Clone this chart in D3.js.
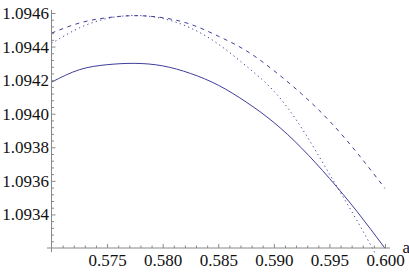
<!DOCTYPE html>
<html>
<head>
<meta charset="utf-8">
<script src="https://cdn.jsdelivr.net/npm/d3@7"></script>
<style>
  body { margin: 0; background: #fff; }
  svg { display: block; }
  .tick text { font-family: "Liberation Serif", "DejaVu Serif", serif; font-size: 17px; fill: #111; }
  .tick line { stroke: #888; }
</style>
</head>
<body>
<svg id="chart" width="409" height="273"></svg>
<script>
// valeurs
const aValues = [0.570, 0.5725, 0.575, 0.5775, 0.580, 0.5825, 0.585, 0.5875, 0.590, 0.5925, 0.595, 0.5975, 0.600];
const solid  = [1.094188, 1.094262, 1.094292, 1.094300, 1.094285, 1.094240, 1.094170, 1.094070, 1.093948, 1.093795, 1.093615, 1.093416, 1.093198];
const dashed = [1.094480, 1.094540, 1.094572, 1.094584, 1.094572, 1.094533, 1.094462, 1.094376, 1.094257, 1.094118, 1.093957, 1.093766, 1.093555];
const dotted = [1.094419, 1.094511, 1.094567, 1.094585, 1.094567, 1.094511, 1.094415, 1.094285, 1.094135, 1.093915, 1.093641, 1.093361, 1.093061];

const xTicks = [0.575, 0.580, 0.585, 0.590, 0.595, 0.600];
const yTicks = [1.0934, 1.0936, 1.0938, 1.0940, 1.0942, 1.0944, 1.0946];
const xMinor = [0.571, 0.572, 0.573, 0.574, 0.576, 0.577, 0.578, 0.579, 0.581, 0.582, 0.583, 0.584,
                0.586, 0.587, 0.588, 0.589, 0.591, 0.592, 0.593, 0.594, 0.596, 0.597, 0.598, 0.599];
const yMinor = [1.09324, 1.09328, 1.09332, 1.09336, 1.09344, 1.09348, 1.09352, 1.09356,
                1.09364, 1.09368, 1.09372, 1.09376, 1.09384, 1.09388, 1.09392, 1.09396,
                1.09404, 1.09408, 1.09412, 1.09416, 1.09424, 1.09428, 1.09432, 1.09436,
                1.09444, 1.09448, 1.09452, 1.09456];
const xLabel = "a";

const svg = d3.select("#chart");
const col = "rgb(63,61,153)";

const x = d3.scaleLinear().domain([0.570, 0.600]).range([51.5, 385]);
const y = d3.scaleLinear().domain([1.0932, 1.0946]).range([248, 13]);

// clip des courbes
svg.append("clipPath").attr("id", "clip")
  .append("rect").attr("x", 51).attr("y", 6).attr("width", 336).attr("height", 249);

const series = [
  { vals: solid, dash: null },
  { vals: dashed, dash: "4,4.5" },
  { vals: dotted, dash: "1.2,3.3" }
];

const line = d3.line()
  .x(d => x(d[0]))
  .y(d => y(d[1]))
  .curve(d3.curveNatural);

const curves = svg.append("g").attr("clip-path", "url(#clip)");
series.forEach(s => {
  curves.append("path")
    .attr("d", line(aValues.map((a, i) => [a, s.vals[i]])))
    .attr("fill", "none")
    .attr("stroke", col)
    .attr("stroke-width", 1)
    .attr("stroke-dasharray", s.dash);
});

// axes
const axisCol = "#888";
svg.append("line").attr("x1", x(0.570)).attr("x2", x(0.570))
  .attr("y1", 10).attr("y2", 252).attr("stroke", axisCol);
svg.append("line").attr("x1", 47).attr("x2", 390)
  .attr("y1", y(1.0932)).attr("y2", y(1.0932)).attr("stroke", axisCol);

svg.append("g")
  .attr("transform", `translate(${x(0.570)},0)`)
  .call(d3.axisLeft(y).tickValues(yTicks).tickFormat(d3.format(".4f")).tickSize(-4).tickPadding(2.5))
  .call(g => g.select(".domain").remove());
svg.append("g")
  .attr("transform", `translate(${x(0.570)},0)`)
  .call(d3.axisLeft(y).tickValues(yMinor).tickFormat("").tickSize(-2.5))
  .call(g => g.select(".domain").remove());

svg.append("g")
  .attr("transform", `translate(0,${y(1.0932)})`)
  .call(d3.axisBottom(x).tickValues(xTicks).tickFormat(d3.format(".3f")).tickSize(-4).tickPadding(5.5))
  .call(g => g.select(".domain").remove());
svg.append("g")
  .attr("transform", `translate(0,${y(1.0932)})`)
  .call(d3.axisBottom(x).tickValues(xMinor).tickFormat("").tickSize(-2.5))
  .call(g => g.select(".domain").remove());

svg.selectAll(".tick line").attr("stroke", axisCol);

svg.append("text")
  .attr("x", 402.5).attr("y", 253)
  .attr("font-family", "Liberation Serif, serif")
  .attr("font-size", 17)
  .attr("fill", "#111")
  .text(xLabel);
</script>
</body>
</html>
